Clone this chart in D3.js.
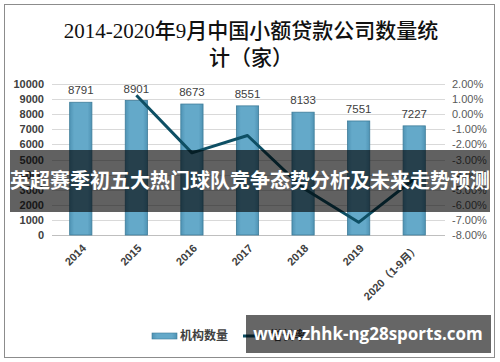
<!DOCTYPE html>
<html>
<head>
<meta charset="utf-8">
<script src="https://cdn.jsdelivr.net/npm/d3@7"></script>
<style>
  html, body { margin: 0; padding: 0; background: #fff; }
  svg { display: block; font-family: "Liberation Sans", "Noto Sans CJK SC", sans-serif; }
</style>
</head>
<body>
<svg id="chart" width="500" height="362"></svg>
<script>
const years = ["2014", "2015", "2016", "2017", "2018", "2019", "2020（1-9月）"];
const counts = [8791, 8901, 8673, 8551, 8133, 7551, 7227];
const growth = [null, 1.25, -2.56, -1.41, -4.89, -7.16, -4.29];
const leftTicks = [0, 1000, 2000, 3000, 4000, 5000, 6000, 7000, 8000, 9000, 10000];
const rightTicks = [-8, -7, -6, -5, -4, -3, -2, -1, 0, 1, 2];

const W = 500, H = 362;
const svg = d3.select("#chart");

// frame
svg.append("rect").attr("x", 4.5).attr("y", 4.5).attr("width", 490).attr("height", 353)
  .attr("fill", "#fff").attr("stroke", "#8c8c8c").attr("stroke-width", 1);

// title
const titleFont = "'Liberation Serif', 'Noto Sans CJK SC', serif";
svg.append("text").attr("x", 251).attr("y", 38).attr("text-anchor", "middle")
  .attr("fill", "#111").style("font-family", titleFont).style("font-weight", "500")
  .style("font-size", "21px").text("2014-2020年9月中国小额贷款公司数量统");
svg.append("text").attr("x", 251).attr("y", 65).attr("text-anchor", "middle")
  .attr("fill", "#111").style("font-family", titleFont).style("font-weight", "500")
  .style("font-size", "21px").text("计（家）");

const x = d3.scaleBand().domain(years).range([53, 442]).paddingInner(0.6).paddingOuter(0.3);
const yL = d3.scaleLinear().domain([0, 10000]).range([235, 84]);
const yR = d3.scaleLinear().domain([-8, 2]).range([235, 84]);

// gridlines
svg.append("g").selectAll("line").data(leftTicks).join("line")
  .attr("x1", 52).attr("x2", 445)
  .attr("y1", d => Math.round(yL(d)) + 0.5).attr("y2", d => Math.round(yL(d)) + 0.5)
  .attr("stroke", d => d === 0 ? "#bfbfbf" : "#d9d9d9").attr("stroke-width", 1);

// left axis
const axL = svg.append("g").attr("transform", "translate(44,0)")
  .call(d3.axisLeft(yL).tickValues(leftTicks).tickSize(0).tickPadding(0).tickFormat(d3.format("d")));
axL.select(".domain").remove();
axL.selectAll("text").attr("fill", "#404040").style("font-size", "11px").style("font-weight", "bold")
  .style("font-family", "'Liberation Sans', sans-serif");

// right axis
const axR = svg.append("g").attr("transform", "translate(452,0)")
  .call(d3.axisRight(yR).tickValues(rightTicks).tickSize(0).tickPadding(0).tickFormat(d => d.toFixed(2) + "%"));
axR.select(".domain").remove();
axR.selectAll("text").attr("fill", "#595959").style("font-size", "11px")
  .style("font-family", "'Liberation Sans', sans-serif");

// bar gradient
const defs = svg.append("defs");
const grad = defs.append("linearGradient").attr("id", "barGrad").attr("x1", 0).attr("x2", 1).attr("y1", 0).attr("y2", 0);
grad.append("stop").attr("offset", "0%").attr("stop-color", "#4f93b4");
grad.append("stop").attr("offset", "20%").attr("stop-color", "#64a9c9");
grad.append("stop").attr("offset", "80%").attr("stop-color", "#64a9c9");
grad.append("stop").attr("offset", "100%").attr("stop-color", "#4f93b4");

svg.append("g").selectAll("rect").data(counts).join("rect")
  .attr("x", (d, i) => x(years[i]))
  .attr("y", d => yL(d))
  .attr("width", x.bandwidth())
  .attr("height", d => yL(0) - yL(d))
  .attr("fill", "url(#barGrad)")
  .attr("stroke", "#3d7c99").attr("stroke-width", 0.8);

// value labels
svg.append("g").selectAll("text").data(counts).join("text")
  .attr("x", (d, i) => x(years[i]) + x.bandwidth() / 2)
  .attr("y", d => yL(d) - 8)
  .attr("text-anchor", "middle").attr("fill", "#404040")
  .style("font-size", "11.5px").text(d => d);

// growth line
const pts = growth.map((g, i) => ({ g, i })).filter(p => p.g !== null);
svg.append("path").datum(pts)
  .attr("fill", "none").attr("stroke", "#0e4f64").attr("stroke-width", 3)
  .attr("stroke-linejoin", "round")
  .attr("d", d3.line().x(p => x(years[p.i]) + x.bandwidth() / 2).y(p => yR(p.g)));

// x labels
svg.append("g").selectAll("text").data(years).join("text")
  .attr("transform", d => `translate(${x(d) + x.bandwidth() / 2 + 6},${249}) rotate(-45)`)
  .attr("text-anchor", "end").attr("fill", "#404040")
  .style("font-size", "11px").style("font-weight", "bold").text(d => d);

// legend
const lg = svg.append("g");
lg.append("rect").attr("x", 152).attr("y", 333).attr("width", 25).attr("height", 6)
  .attr("fill", "url(#barGrad)").attr("stroke", "#3d7c99").attr("stroke-width", 0.6);
lg.append("text").attr("x", 180).attr("y", 340).attr("fill", "#404040")
  .style("font-size", "12px").style("font-weight", "bold").text("机构数量");
lg.append("line").attr("x1", 243).attr("x2", 265).attr("y1", 336).attr("y2", 336)
  .attr("stroke", "#0e4f64").attr("stroke-width", 3);
lg.append("text").attr("x", 270).attr("y", 340).attr("fill", "#404040")
  .style("font-size", "12px").style("font-weight", "bold").text("增长率");

// banner overlay
svg.append("rect").attr("x", 10).attr("y", 150).attr("width", 480).attr("height", 62)
  .attr("fill", "rgba(0,0,0,0.62)");
svg.append("text").attr("x", 250).attr("y", 188).attr("text-anchor", "middle")
  .attr("fill", "#fff").style("font-size", "20px").style("font-weight", "bold")
  .style("font-family", "'Noto Sans CJK SC', sans-serif")
  .text("英超赛季初五大热门球队竞争态势分析及未来走势预测");

// watermark
svg.append("rect").attr("x", 246).attr("y", 315).attr("width", 245).attr("height", 38)
  .attr("fill", "rgba(0,0,0,0.6)");
svg.append("text").attr("x", 368).attr("y", 340).attr("text-anchor", "middle")
  .attr("fill", "#fff").style("font-size", "17px").style("font-weight", "bold")
  .style("font-family", "'Open Sans', 'DejaVu Sans', sans-serif")
  .text("www.zhhk-ng28sports.com");
</script>
</body>
</html>
